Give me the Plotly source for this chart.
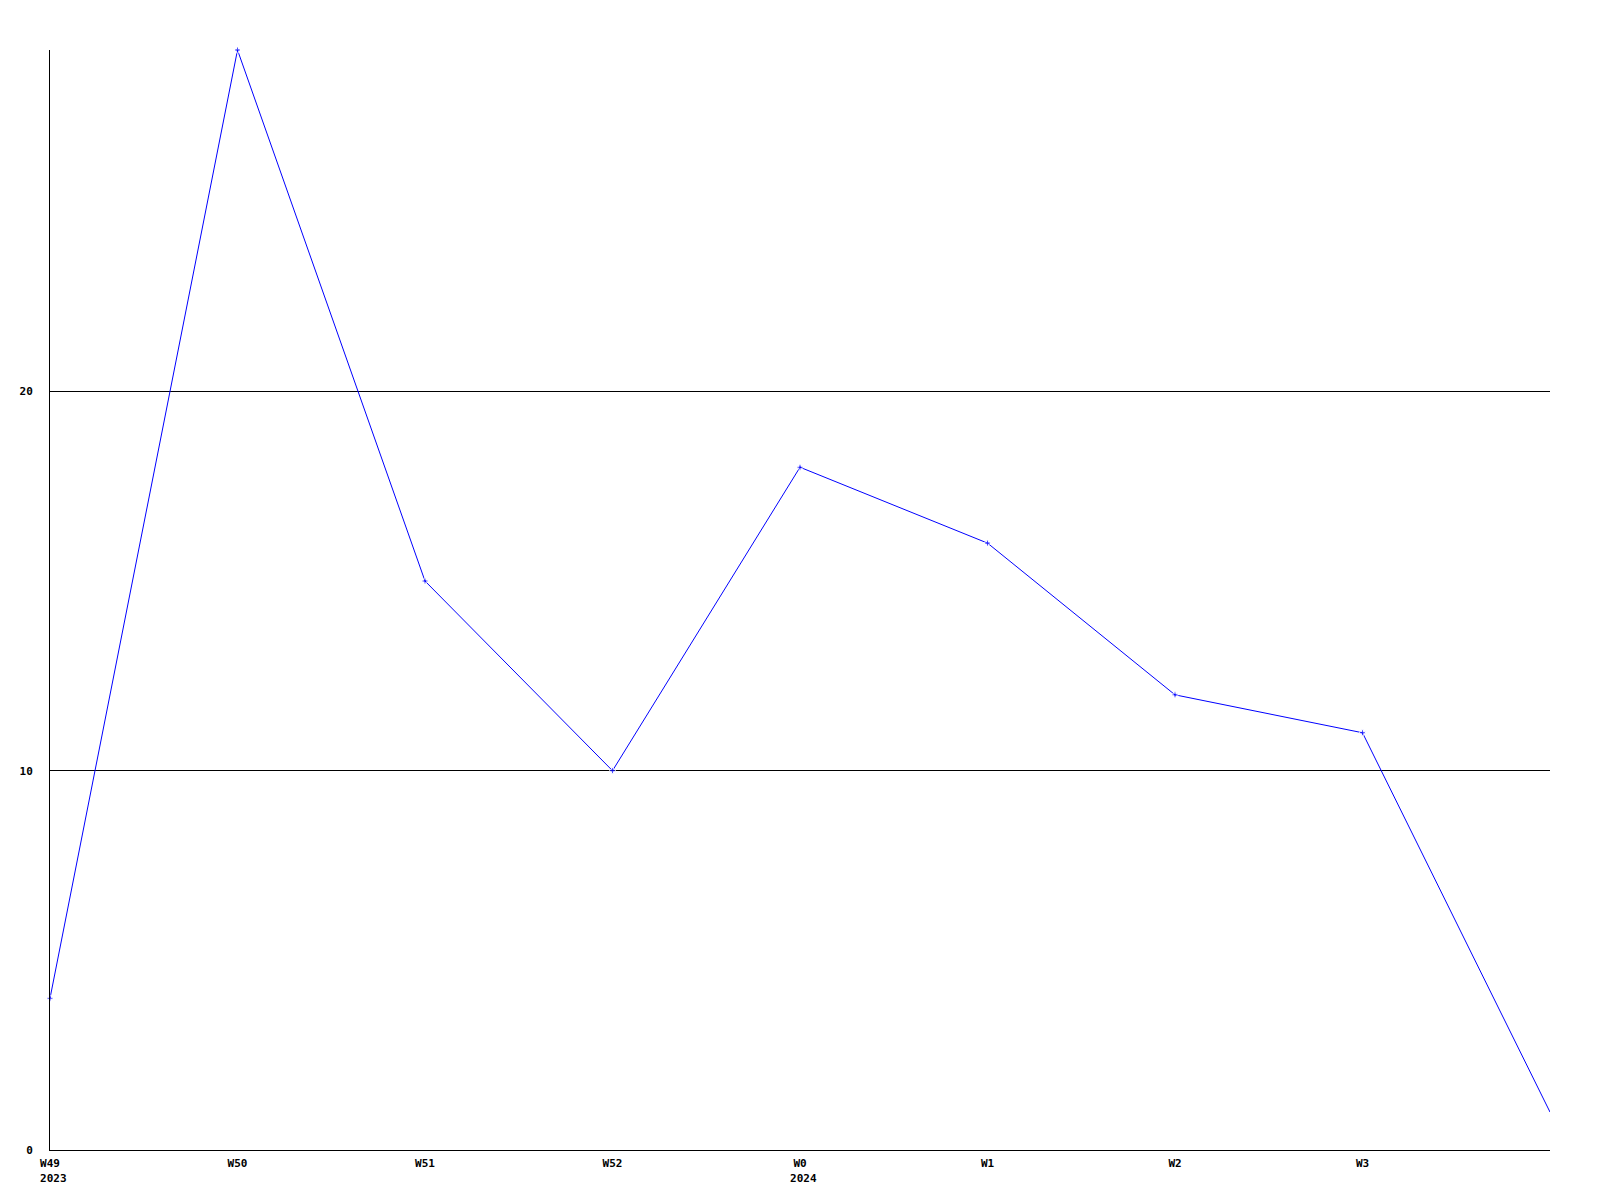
import plotly.graph_objects as go

weeks = ["W49", "W50", "W51", "W52", "W0", "W1", "W2", "W3", ""]
years = ["2023", "", "", "", "2024", "", "", "", ""]
values = [4, 29, 15, 10, 18, 16, 12, 11, 1]

x = list(range(len(values)))
ticktext = []
for w, y in zip(weeks, years):
    if y:
        ticktext.append(w + "<br>\u00a0" + y)
    else:
        ticktext.append(w)

marker_sizes = [5] * (len(values) - 1) + [0]

fig = go.Figure()
fig.add_trace(go.Scatter(
    x=x, y=values, mode="lines+markers",
    line=dict(color="#0000ff", width=1),
    marker=dict(color="#0000ff", size=marker_sizes, symbol="cross"),
    cliponaxis=False,
    showlegend=False,
))

font = dict(family="DejaVu Sans Mono", size=11, color="#000000", weight="bold")

fig.update_layout(
    width=1584, height=1184,
    margin=dict(l=42, r=42, t=42, b=42),
    paper_bgcolor="white", plot_bgcolor="white",
    xaxis=dict(
        range=[0, 8], tickmode="array", tickvals=x[:-1], ticktext=ticktext[:-1],
        showgrid=False, zeroline=False, showline=True, linecolor="black", linewidth=1,
        ticks="", tickfont=font, ticklabelstandoff=3, automargin=False,
    ),
    yaxis=dict(
        range=[0, 29], tickmode="array", tickvals=[0, 10, 20], ticktext=["0", "10", "20"],
        showgrid=True, gridcolor="black", gridwidth=1, zeroline=False,
        showline=True, linecolor="black", linewidth=1,
        ticks="", tickfont=font, ticklabelstandoff=14, automargin=False,
    ),
)

fig.write_html("out.html")
